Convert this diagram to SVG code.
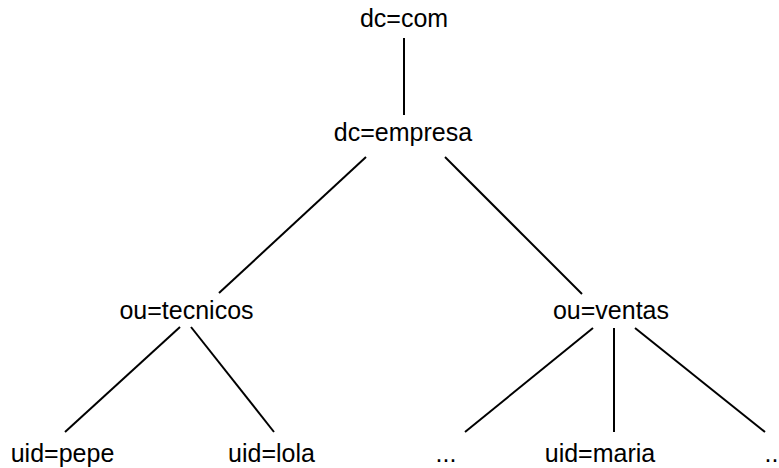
<svg xmlns="http://www.w3.org/2000/svg" width="779" height="468" viewBox="0 0 779 468">
  <style>
    .lbl { font-family: "Liberation Sans", Arial, sans-serif; font-size: 25px; fill: #000; text-anchor: middle; }
    .edge { stroke: #000; stroke-width: 2; fill: none; }
  </style>
  <rect width="779" height="468" fill="#fff"/>
  <g id="connectors">
    <line class="edge" x1="404" y1="38" x2="404" y2="115"/>
    <line class="edge" x1="366" y1="157" x2="219" y2="293"/>
    <line class="edge" x1="445" y1="157" x2="582" y2="294"/>
    <line class="edge" x1="180" y1="327" x2="65" y2="432"/>
    <line class="edge" x1="191" y1="327" x2="274" y2="432"/>
    <line class="edge" x1="593" y1="328" x2="465" y2="432"/>
    <line class="edge" x1="614" y1="328" x2="614" y2="432"/>
    <line class="edge" x1="635" y1="328" x2="765" y2="432"/>
  </g>
  <g id="dc-com"><text class="lbl" x="404" y="27">dc=com</text></g>
  <g id="dc-empresa"><text class="lbl" x="403" y="141">dc=empresa</text></g>
  <g id="ou-tecnicos"><text class="lbl" x="186.5" y="319">ou=tecnicos</text></g>
  <g id="ou-ventas"><text class="lbl" x="611" y="319">ou=ventas</text></g>
  <g id="uid-pepe"><text class="lbl" x="62.5" y="462">uid=pepe</text></g>
  <g id="uid-lola"><text class="lbl" x="271.5" y="462">uid=lola</text></g>
  <g id="more-left"><text class="lbl" x="446" y="462">...</text></g>
  <g id="uid-maria"><text class="lbl" x="600" y="462">uid=maria</text></g>
  <g id="more-right"><text class="lbl" x="775" y="462">...</text></g>
</svg>
